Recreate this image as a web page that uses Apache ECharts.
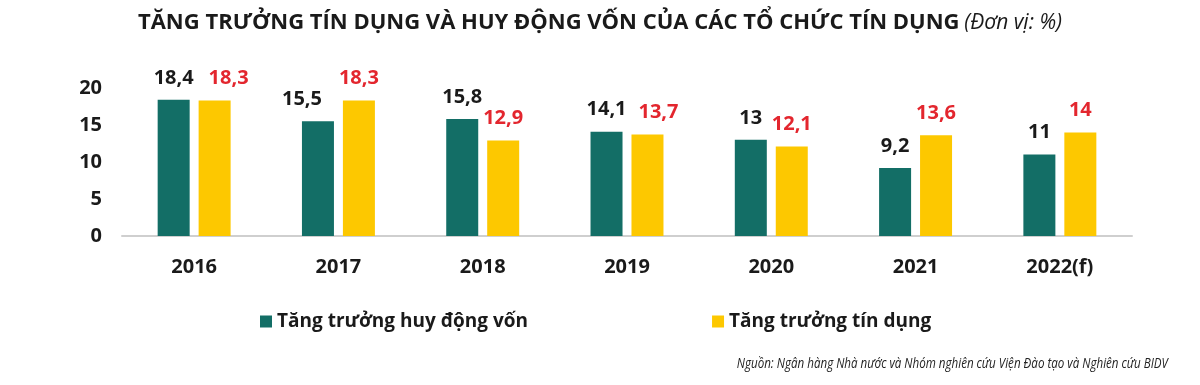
<!DOCTYPE html>
<html><head><meta charset="utf-8">
<script src="https://cdn.jsdelivr.net/npm/echarts@6/dist/echarts.min.js"></script>
<style>html,body{margin:0;padding:0;background:#fff;}#c{width:1200px;height:385px;}</style>
</head><body><div id="c"></div>
<script>
const categories = ['2016','2017','2018','2019','2020','2021','2022(f)'];
const huyDongVon = [18.4, 15.5, 15.8, 14.1, 13, 9.2, 11];
const tinDung = [18.3, 18.3, 12.9, 13.7, 12.1, 13.6, 14];
const yTicks = [0, 5, 10, 15, 20];
const seriesNames = ['Tăng trưởng huy động vốn', 'Tăng trưởng tín dụng'];
const sourceText = 'Nguồn: Ngân hàng Nhà nước và Nhóm nghiên cứu Viện Đào tạo và Nghiên cứu BIDV';

// horizontal nudges of value labels (as in the reference, to avoid overlap)
const labelShiftA = {1: -16};
const labelShiftB = {0: 14, 3: 11};

const fmt = v => String(v).replace('.', ',');
const build = (vals, shift) => vals.map((v, i) => shift[i] ? { value: v, label: { offset: [shift[i], 0] } } : v);

const chart = echarts.init(document.getElementById('c'));
const F = '"Open Sans", "Noto Sans", sans-serif';
chart.setOption({
  animation: false,
  textStyle: { fontFamily: F },
  title: [{
    text: '{b|TĂNG TRƯỞNG TÍN DỤNG VÀ HUY ĐỘNG VỐN CỦA CÁC TỔ CHỨC TÍN DỤNG} {i|(Đơn vị: %)}',
    left: 'center', top: 7,
    textStyle: { rich: {
      b: { fontFamily: F, fontWeight: 'bold', fontSize: 22, color: '#1a1a1a' },
      i: { fontFamily: F, fontStyle: 'italic', fontWeight: 'normal', fontSize: 21, color: '#1a1a1a' }
    } }
  }],
  graphic: [{
    type: 'text', right: 32, top: 356, scaleX: 0.8, originX: 1168,
    style: { text: sourceText, fontFamily: F, fontStyle: 'italic', fontSize: 14.5, fill: '#222', textAlign: 'right' }
  }],
  legend: {
    left: 255, top: 307, itemWidth: 12, itemHeight: 12, itemGap: 184, icon: 'rect',
    textStyle: { fontFamily: F, fontWeight: 'bold', fontSize: 19, color: '#1a1a1a', padding: [0,0,0,0] },
    data: seriesNames
  },
  grid: { left: 122, right: 68, top: 88, bottom: 149 },
  xAxis: {
    type: 'category', data: categories,
    axisLine: { lineStyle: { color: '#cfcfcf', width: 2 } },
    axisTick: { show: false },
    axisLabel: { fontFamily: F, fontWeight: 'bold', fontSize: 20, color: '#1a1a1a', margin: 21 }
  },
  yAxis: {
    type: 'value', min: yTicks[0], max: yTicks[yTicks.length-1], interval: 5,
    splitLine: { show: false },
    axisLine: { show: false }, axisTick: { show: false },
    axisLabel: { fontFamily: F, fontWeight: 'bold', fontSize: 20, color: '#1a1a1a', margin: 20 }
  },
  series: [{
    name: seriesNames[0], type: 'bar', data: build(huyDongVon, labelShiftA), barWidth: 32, barGap: '28%',
    itemStyle: { color: '#136e66' },
    label: { show: true, position: 'top', distance: 12, formatter: p => fmt(p.value),
      fontFamily: F, fontWeight: 'bold', fontSize: 20, color: '#1a1a1a' }
  }, {
    name: seriesNames[1], type: 'bar', data: build(tinDung, labelShiftB), barWidth: 32,
    itemStyle: { color: '#fdc800' },
    label: { show: true, position: 'top', distance: 12, formatter: p => fmt(p.value),
      fontFamily: F, fontWeight: 'bold', fontSize: 20, color: '#e3262e' }
  }]
});
</script></body></html>
